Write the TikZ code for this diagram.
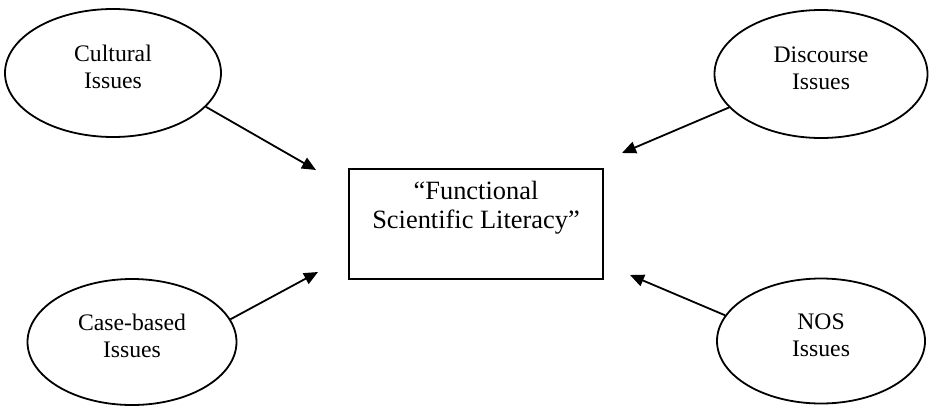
\documentclass[tikz,border=0pt]{standalone}
\usepackage{fontspec}
\setmainfont{Liberation Serif}
\usetikzlibrary{shapes.geometric,arrows.meta}

\begin{document}
\begin{tikzpicture}[x=0.5pt,y=-0.5pt,
        issue/.style={ellipse,draw,line width=0.9pt,align=center,
            font=\fontsize{11.85}{13.5}\selectfont,text depth=6pt},
        goal/.style={rectangle,draw,line width=0.9pt,align=center,
            font=\fontsize{13.2}{14.5}\selectfont,text depth=19.4pt},
        arr/.style={line width=0.9pt,-{Triangle[length=7pt,width=6pt]}}]
    \useasboundingbox (0,0) rectangle (930,407);
    % the four groups of issues
    \node[issue,minimum width=108pt,minimum height=64pt] (cult) at (113,73) {Cultural\\Issues};
    \node[issue,minimum width=106.5pt,minimum height=64pt] (disc) at (821,74) {Discourse\\Issues};
    \node[issue,minimum width=104.5pt,minimum height=63pt] (case) at (132,342) {Case-based\\Issues};
    \node[issue,minimum width=104pt,minimum height=62.5pt] (nos) at (821,341) {NOS\\Issues};
    % centre box
    \node[goal,minimum width=127pt,minimum height=55pt] (fsl) at (476,224) {“Functional\\Scientific Literacy”};
    \coordinate (t1) at (316,170);
    \coordinate (t2) at (622,153);
    \coordinate (t3) at (318,272);
    \coordinate (t4) at (630,275);
    \draw[arr] (cult.-20) -- (t1);
    \draw[arr] (disc.200) -- (t2);
    \draw[arr] (case.13) -- (t3);
    \draw[arr] (nos.165) -- (t4);
\end{tikzpicture}
\end{document}
